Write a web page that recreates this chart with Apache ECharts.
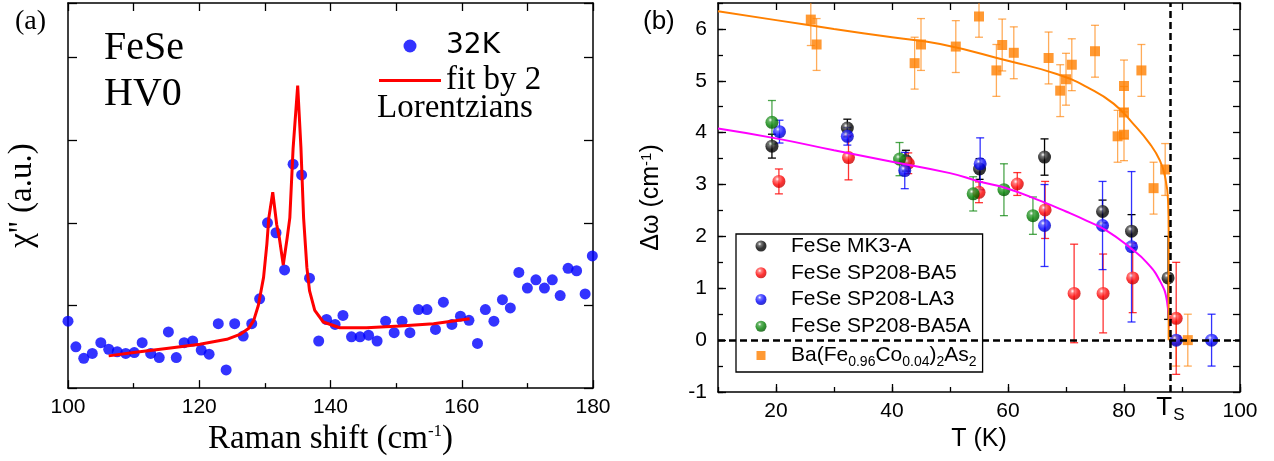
<!DOCTYPE html>
<html><head><meta charset="utf-8">
<script src="https://cdn.jsdelivr.net/npm/echarts@6/dist/echarts.min.js"></script>
<style>html,body{margin:0;padding:0;background:#fff}#c{width:1274px;height:461px}</style>
</head><body><div id="c"></div>
<script>
// ---------- Panel (a): Raman spectrum ----------
const ramanShift = [100.0,101.2,102.4,103.7,105.0,106.2,107.5,108.8,110.1,111.3,112.6,113.9,115.3,116.5,117.7,119.0,120.3,121.5,122.9,124.1,125.4,126.7,128.0,129.2,130.4,131.7,133.0,134.3,135.6,136.8,138.2,139.4,140.7,141.9,143.2,144.5,145.8,147.1,148.4,149.7,150.9,152.1,153.4,154.7,156.0,157.2,158.5,159.8,161.1,162.4,163.6,164.9,166.2,167.4,168.7,170.0,171.3,172.6,173.8,175.0,176.2,177.5,178.8,179.9];
const chi32K = [0.81,0.50,0.36,0.42,0.55,0.47,0.44,0.42,0.43,0.55,0.42,0.37,0.68,0.37,0.55,0.57,0.46,0.41,0.78,0.22,0.78,0.63,0.78,1.08,2.00,1.88,1.43,2.71,2.58,1.33,0.57,0.83,0.77,0.88,0.62,0.62,0.64,0.57,0.81,0.67,0.81,0.67,0.95,0.95,0.71,1.04,0.77,0.87,0.82,0.54,0.95,0.81,1.07,0.97,1.40,1.21,1.31,1.21,1.31,1.12,1.45,1.42,1.14,1.60];
const fitShift = [106.2,110.0,115.0,120.1,124.2,126.2,127.5,128.3,129.0,129.8,130.3,130.6,131.2,131.8,132.2,132.8,133.4,133.8,134.3,135.0,135.5,135.9,136.4,136.8,137.6,138.9,141.4,145.5,150.6,155.7,161.2];
const fitChi = [0.39,0.43,0.48,0.53,0.59,0.65,0.72,0.82,1.00,1.34,1.74,2.06,2.37,1.98,1.82,1.49,1.82,2.06,2.90,3.66,2.90,2.06,1.46,1.18,0.94,0.80,0.73,0.73,0.75,0.78,0.84];

// ---------- Panel (b): Delta omega vs T ----------
const mk3T = [19.3,32.3,42.4,55.1,66.3,76.3,81.3,87.6];
const mk3V = [3.74,4.09,3.46,3.30,3.53,2.48,2.10,1.20];
const mk3E = [0.23,0.17,0.20,0.20,0.35,0.22,0.32,0.80];

const ba5T = [20.5,32.5,42.8,55.0,61.6,66.4,71.4,76.4,81.5,89.0];
const ba5V = [3.06,3.52,3.41,2.85,3.01,2.51,0.90,0.90,1.20,0.42];
const ba5E = [0.24,0.43,0.20,0.20,0.22,0.55,0.95,0.76,0.67,1.08];

const la3T = [20.6,32.3,42.2,55.2,66.3,76.3,81.3,89.0,95.1];
const la3V = [4.02,3.93,3.27,3.40,2.21,2.21,1.80,0.00,0.00];
const la3E = [0.22,0.17,0.35,0.50,0.79,0.85,1.45,0.00,0.50];

const ba5aT = [19.3,41.3,54.0,59.3,64.3];
const ba5aV = [4.20,3.49,2.82,2.90,2.40];
const ba5aE = [0.42,0.32,0.33,0.50,0.36];

const bfcaT = [26.0,27.0,43.9,45.0,51.0,55.0,58.0,59.0,61.0,67.0,69.0,70.0,71.0,75.0,78.9,80.0,80.0,80.0,83.0,85.1,87.1,89.0,91.0];
const bfcaV = [6.18,5.70,5.34,5.70,5.66,6.24,5.20,5.69,5.54,5.44,4.81,5.03,5.31,5.57,3.93,4.90,4.39,3.96,5.20,2.93,3.29,0.00,0.00];
const bfcaE = [0.50,0.50,0.50,0.50,0.50,0.40,0.50,0.50,0.50,0.50,0.50,0.50,0.50,0.50,0.50,0.50,0.50,0.50,0.50,0.50,0.50,0.50,0.50];

const fitMagT = [10,20,30,40,50,55,60,65.5,70,73.6,77,81.3,83.9,86.2,87.4,87.8];
const fitMagV = [4.08,3.89,3.66,3.44,3.22,3.06,2.92,2.69,2.48,2.30,2.11,1.76,1.50,1.14,0.76,0.25];
const fitOrgT = [10,20,30,40,48.3,59.8,68.4,74.1,78.2,81.6,84.5,86.2,87.1,87.6,87.7,87.7];
const fitOrgV = [6.34,6.17,6.00,5.84,5.71,5.39,5.13,4.85,4.56,4.17,3.78,3.46,3.14,2.69,2.11,0.00];

const xTicksB = [20,40,60,80,100];
const TsValue = 88;

const names = ['FeSe MK3-A','FeSe SP208-BA5','FeSe SP208-LA3','FeSe SP208-BA5A','Ba(Fe0.96Co0.04)2As2'];

const SANS = 'Liberation Sans, Arial, sans-serif';
const SERIF = 'Liberation Serif, Times New Roman, serif';

function pairs(a,b){return a.map((v,i)=>[v,b[i]]);}
function triples(a,b,c){return a.map((v,i)=>[v,b[i],c[i]]);}
function sphere(base, light, dark){
  return {type:'radial', x:0.38, y:0.32, r:0.72, colorStops:[
    {offset:0,color:'#ffffff'},{offset:0.22,color:light},{offset:0.6,color:base},{offset:1,color:dark}]};
}
function errRender(color){
  return function(params, api){
    const x=api.value(0), y=api.value(1), e=api.value(2);
    if(!e) return null;
    const p1=api.coord([x,y+e]), p2=api.coord([x,y-e]);
    const w=4, st={stroke:color, lineWidth:1.3};
    return {type:'group', children:[
      {type:'line',shape:{x1:p1[0],y1:p1[1],x2:p2[0],y2:p2[1]},style:st},
      {type:'line',shape:{x1:p1[0]-w,y1:p1[1],x2:p1[0]+w,y2:p1[1]},style:st},
      {type:'line',shape:{x1:p2[0]-w,y1:p2[1],x2:p2[0]+w,y2:p2[1]},style:st}]};
  };
}
function errSeries(T,V,E,color){
  return {type:'custom', xAxisIndex:2, yAxisIndex:2, renderItem:errRender(color), data:triples(T,V,E),
    encode:{x:0,y:1}, clip:true, z:2, silent:true};
}

const axisLineStyle = {show:true, onZero:false, lineStyle:{color:'#000', width:1.5}};
const tickStyle = {color:'#000', width:1.3};

const chart = echarts.init(document.getElementById('c'));
chart.setOption({
  animation:false,
  backgroundColor:'#fff',
  grid:[
    {left:68, top:3, width:525, height:389},
    {left:718, top:3, width:522, height:389}
  ],
  xAxis:[
    {gridIndex:0, type:'value', min:100, max:180, interval:20, position:'bottom',
     axisLine:axisLineStyle, splitLine:{show:false},
     axisTick:{inside:true, length:8, lineStyle:tickStyle},
     minorTick:{show:true, splitNumber:2, length:5, lineStyle:tickStyle},
     axisLabel:{fontFamily:SANS, fontSize:21, color:'#000', margin:9},
     name:'Raman shift (cm{sup|-1})', nameLocation:'middle', nameGap:29,
     nameTextStyle:{fontFamily:SERIF, fontSize:33, color:'#000',
       rich:{sup:{fontFamily:SERIF, fontSize:17, lineHeight:17, verticalAlign:'top', color:'#000'}}}},
    {gridIndex:0, type:'value', min:100, max:180, interval:10, position:'top',
     axisLine:axisLineStyle, splitLine:{show:false},
     axisTick:{inside:true, length:8, lineStyle:tickStyle}, axisLabel:{show:false}},
    {gridIndex:1, type:'value', min:10, max:100, interval:10, position:'bottom',
     axisLine:axisLineStyle, splitLine:{show:false},
     axisTick:{inside:true, length:8, lineStyle:tickStyle, customValues:xTicksB},
     axisLabel:{fontFamily:SANS, fontSize:21, color:'#000', margin:9,
       formatter:function(v){return (v%20===0)?String(v):'';}},
     name:'T (K)', nameLocation:'middle', nameGap:33,
     nameTextStyle:{fontFamily:SANS, fontSize:25, color:'#000'}},
    {gridIndex:1, type:'value', min:10, max:100, interval:10, position:'top',
     axisLine:axisLineStyle, splitLine:{show:false},
     axisTick:{inside:true, length:7, lineStyle:tickStyle}, axisLabel:{show:false}},
    {gridIndex:1, type:'value', min:10, max:100, interval:10, position:'bottom',
     axisLine:{show:false, onZero:false}, splitLine:{show:false},
     axisTick:{inside:true, length:5, lineStyle:tickStyle}, axisLabel:{show:false}}
  ],
  yAxis:[
    {gridIndex:0, type:'value', min:0, max:4.66, interval:1, position:'left',
     axisLine:axisLineStyle, splitLine:{show:false},
     axisTick:{inside:true, length:9, lineStyle:tickStyle}, axisLabel:{show:false},
     name:"χ'' (a.u.)", nameLocation:'middle', nameGap:29,
     nameTextStyle:{fontFamily:SERIF, fontSize:33, color:'#000'}},
    {gridIndex:0, type:'value', min:0, max:4.66, interval:1, position:'right',
     axisLine:axisLineStyle, splitLine:{show:false},
     axisTick:{inside:true, length:9, lineStyle:tickStyle}, axisLabel:{show:false}},
    {gridIndex:1, type:'value', min:-1, max:6.5, interval:1, position:'left',
     axisLine:axisLineStyle, splitLine:{show:false},
     axisTick:{inside:true, length:8, lineStyle:tickStyle},
     axisLabel:{fontFamily:SANS, fontSize:21, color:'#000', margin:11, showMaxLabel:false},
     name:'Δω (cm{sup|-1})', nameLocation:'middle', nameGap:54,
     nameTextStyle:{fontFamily:SANS, fontSize:25, color:'#000',
       rich:{sup:{fontFamily:SANS, fontSize:15, lineHeight:15, verticalAlign:'top', color:'#000'}}}},
    {gridIndex:1, type:'value', min:-1, max:6.5, interval:0.5, position:'right',
     axisLine:axisLineStyle, splitLine:{show:false},
     axisTick:{inside:true, length:7, lineStyle:tickStyle}, axisLabel:{show:false}},
    {gridIndex:1, type:'value', min:-1, max:6.5, interval:0.5, position:'left',
     axisLine:{show:false, onZero:false}, splitLine:{show:false},
     axisTick:{inside:true, length:5, lineStyle:tickStyle}, axisLabel:{show:false}}
  ],
  legend:[
    {left:379, top:31, orient:'vertical', padding:0, itemWidth:62, itemHeight:13, itemGap:3,
     data:[{name:'32K', icon:'circle'},
           {name:'fit by 2', icon:'path://M0,0L62,0L62,3L0,3Z',
            textStyle:{fontFamily:SERIF, fontSize:33, lineHeight:30, color:'#000'}}],
     textStyle:{fontFamily:'DejaVu Sans, sans-serif', fontSize:28, lineHeight:30, color:'#000'},
     selectedMode:false},
    {left:736, top:234, orient:'vertical', padding:[1,6,3,0], itemWidth:50, itemHeight:11, itemGap:4.75,
     borderColor:'#000', borderWidth:1.3, backgroundColor:'#fff',
     data:[names[0], names[1], names[2], names[3],
           {name:names[4], icon:'path://M0,0M50,11M20.5,1L29.5,1L29.5,10L20.5,10Z'}],
     selectedMode:false,
     textStyle:{fontFamily:SANS, fontSize:21, lineHeight:22, color:'#000',
       rich:{n:{fontFamily:SANS, fontSize:21, lineHeight:22, verticalAlign:'top', color:'#000'},
             s:{fontFamily:SANS, fontSize:14, lineHeight:14, padding:[13,0,0,0], color:'#000'}}},
     formatter:function(name){
       if(name===names[4]) return '{n|Ba(Fe}{s|0.96}{n|Co}{s|0.04}{n|)}{s|2}{n|As}{s|2}';
       return name;
     }}
  ],
  graphic:[
    {type:'text', left:15, top:8, style:{text:'(a)', font:'28px '+SERIF, fill:'#000'}},
    {type:'text', left:104, top:28, style:{text:'FeSe', font:'40px '+SERIF, fill:'#000'}},
    {type:'text', left:104, top:74, style:{text:'HV0', font:'40px '+SERIF, fill:'#000'}},
    {type:'text', left:377, top:92, style:{text:'Lorentzians', font:'33px '+SERIF, fill:'#000'}},
    {type:'text', left:643, top:9, style:{text:'(b)', font:'26px '+SANS, fill:'#000'}}
  ],
  series:[
    {name:'32K', type:'scatter', xAxisIndex:0, yAxisIndex:0, data:pairs(ramanShift, chi32K),
     symbol:'circle', symbolSize:11, itemStyle:{color:'#0000ff'}, z:3},
    {name:'fit by 2', type:'line', xAxisIndex:0, yAxisIndex:0, data:pairs(fitShift, fitChi),
     symbol:'none', smooth:false, lineStyle:{color:'#ff0000', width:3}, itemStyle:{color:'#ff0000'}, z:4},

    errSeries(bfcaT, bfcaV, bfcaE, 'rgba(255,128,0,0.65)'),
    errSeries(mk3T, mk3V, mk3E, '#000000'),
    errSeries(ba5T, ba5V, ba5E, 'rgba(255,0,0,0.8)'),
    errSeries(la3T, la3V, la3E, 'rgba(0,0,255,0.8)'),
    errSeries(ba5aT, ba5aV, ba5aE, 'rgba(0,128,0,0.7)'),

    {name:names[4], type:'scatter', xAxisIndex:2, yAxisIndex:2, data:pairs(bfcaT,bfcaV),
     symbol:'rect', symbolSize:10, itemStyle:{color:'#ff8000'}, z:3},
    {name:names[0], type:'scatter', xAxisIndex:2, yAxisIndex:2, data:pairs(mk3T,mk3V),
     symbol:'circle', symbolSize:13, itemStyle:{color:sphere('#000000','#555555','#000000')}, z:3},
    {name:names[1], type:'scatter', xAxisIndex:2, yAxisIndex:2, data:pairs(ba5T,ba5V),
     symbol:'circle', symbolSize:13, itemStyle:{color:sphere('#ff0000','#ff6060','#c00000')}, z:3},
    {name:names[2], type:'scatter', xAxisIndex:2, yAxisIndex:2, data:pairs(la3T,la3V),
     symbol:'circle', symbolSize:13, itemStyle:{color:sphere('#0000ff','#5050ff','#0000b0')}, z:3},
    {name:names[3], type:'scatter', xAxisIndex:2, yAxisIndex:2, data:pairs(ba5aT,ba5aV),
     symbol:'circle', symbolSize:13, itemStyle:{color:sphere('#008000','#40a040','#005000')}, z:3},

    {name:'fitMag', type:'line', xAxisIndex:2, yAxisIndex:2, data:pairs(fitMagT, fitMagV),
     symbol:'none', smooth:true, lineStyle:{color:'#ff00ff', width:2}, z:4},
    {name:'fitOrg', type:'line', xAxisIndex:2, yAxisIndex:2, data:pairs(fitOrgT, fitOrgV),
     symbol:'none', smooth:true, lineStyle:{color:'#ff8000', width:2}, z:4,
     markLine:{silent:true, symbol:['none','none'], animation:false,
       lineStyle:{color:'#000', width:2.5, type:[7,4]},
       data:[
         {xAxis:TsValue, label:{show:true, position:'start', distance:3, formatter:'{t|T}{s|S}',
            rich:{t:{fontFamily:SANS, fontSize:26, lineHeight:26, verticalAlign:'top', color:'#000'},
                  s:{fontFamily:SANS, fontSize:17, lineHeight:17, padding:[14,0,0,1], color:'#000'}}}},
         {yAxis:0, label:{show:false}}
       ]}}
  ]
});
</script></body></html>
